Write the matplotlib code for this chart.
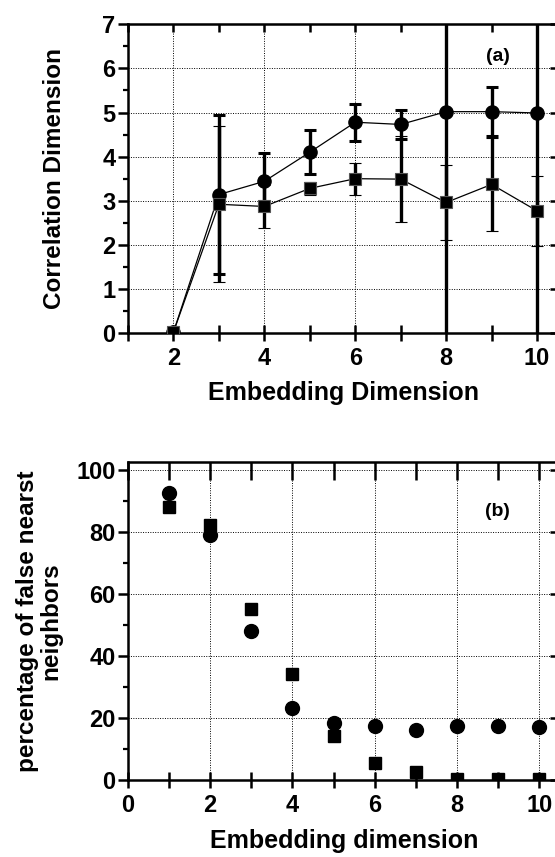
import numpy as np
import matplotlib
matplotlib.use("Agg")
import matplotlib.pyplot as plt
from matplotlib.ticker import MultipleLocator

plt.rcParams['font.family'] = ['Liberation Sans', 'DejaVu Sans']
plt.rcParams['font.weight'] = 'bold'

# (a) correlation dimension vs embedding dimension
emb_a = [2, 3, 4, 5, 6, 7, 8, 9, 10]
corr_circ = [0.02, 3.14, 3.44, 4.1, 4.78, 4.73, 5.02, 5.02, 4.99]
err_circ = [0.0, 1.8, 0.65, 0.5, 0.42, 0.33, 6.0, 0.56, 6.0]
corr_sq = [0.02, 2.92, 2.87, 3.28, 3.5, 3.49, 2.96, 3.37, 2.77]
err_sq = [0.0, 1.77, 0.48, 0.15, 0.36, 0.98, 0.86, 1.05, 0.8]

# (b) false nearest neighbours
emb_b = [1, 2, 3, 4, 5, 6, 7, 8, 9, 10]
fnn_circ = [92.5, 78.8, 48.0, 23.1, 18.3, 17.5, 16.1, 17.5, 17.5, 17.2]
fnn_sq = [87.8, 82.1, 55.1, 34.0, 14.2, 5.4, 2.5, 0.4, 0.3, 0.3]

fig = plt.figure(figsize=(5.55, 8.57), dpi=100)


def style_axes(ax, top_len):
    for s in ax.spines.values():
        s.set_linewidth(1.8)
    ax.grid(True, which='major', linestyle=(0, (1, 1.5)), color='black', linewidth=0.7)
    ax.set_axisbelow(True)
    ax.tick_params(axis='x', which='both', direction='inout', length=12, width=1.8,
                   labelsize=17, pad=4)
    ax.tick_params(axis='y', which='major', direction='out', length=7, width=1.8,
                   labelsize=17, pad=2)
    ax.tick_params(axis='y', which='minor', direction='out', length=3.5, width=1.6)
    # ticks on the (cropped) right side and top point inwards
    ax2 = ax.secondary_yaxis('right')
    ax2.set_yticks(ax.get_yticks())
    ax2.tick_params(direction='in', length=7, width=1.8, labelright=False)
    ax3 = ax.secondary_xaxis('top')
    ax3.xaxis.set_major_locator(MultipleLocator(1))
    ax3.tick_params(direction='in', length=top_len, width=1.8, labeltop=False)
    ax.tick_params(axis='x', which='both', top=False)
    for lab in ax.get_xticklabels() + ax.get_yticklabels():
        lab.set_fontweight('bold')


# ---- top panel
ax1 = fig.add_axes([0.2306, 0.6114, 0.778, 0.3602])
ax1.plot(emb_a, corr_circ, color='black', lw=0.9, zorder=2)
ax1.plot(emb_a, corr_sq, color='black', lw=0.9, zorder=2)
ax1.errorbar(emb_a, corr_circ, yerr=err_circ, fmt='o', color='black', ms=9.5,
             elinewidth=2.4, capsize=4.5, capthick=2.2, zorder=3)
ax1.errorbar(emb_a, corr_sq, yerr=err_sq, fmt='s', color='black', ms=8.5,
             mec='#555555', mew=0.8, elinewidth=2.4, capsize=4.5, capthick=2.2, zorder=3)
ax1.set_xlim(1, 10.5)
ax1.set_ylim(0, 7)
ax1.xaxis.set_major_locator(MultipleLocator(2))
ax1.xaxis.set_minor_locator(MultipleLocator(1))
ax1.yaxis.set_major_locator(MultipleLocator(1))
ax1.yaxis.set_minor_locator(MultipleLocator(0.5))
style_axes(ax1, 6)
ax1.set_xlabel('Embedding Dimension', fontsize=18, fontweight='bold', labelpad=8)
ax1.set_ylabel('Correlation Dimension', fontsize=17.5, fontweight='bold', labelpad=26)
ax1.text(9.15, 6.26, '(a)', fontsize=14, fontweight='bold', ha='center', va='center')

# ---- bottom panel
ax2 = fig.add_axes([0.2306, 0.0898, 0.778, 0.3714])
ax2.plot(emb_b, fnn_circ, 'o', color='black', ms=10, zorder=3)
ax2.plot(emb_b, fnn_sq, 's', color='black', ms=8.5, zorder=3)
ax2.set_xlim(0, 10.5)
ax2.set_ylim(0, 102.5)
ax2.xaxis.set_major_locator(MultipleLocator(2))
ax2.xaxis.set_minor_locator(MultipleLocator(1))
ax2.yaxis.set_major_locator(MultipleLocator(20))
ax2.yaxis.set_minor_locator(MultipleLocator(10))
style_axes(ax2, 13)
ax2.set_xlabel('Embedding dimension', fontsize=18, fontweight='bold', labelpad=9)
ax2.set_ylabel('percentage of false nearst\nneighbors', fontsize=17.5,
               fontweight='bold', labelpad=10, linespacing=1.0)
ax2.text(8.98, 86.6, '(b)', fontsize=14, fontweight='bold', ha='center', va='center')

fig.savefig('out.png', dpi=100)
